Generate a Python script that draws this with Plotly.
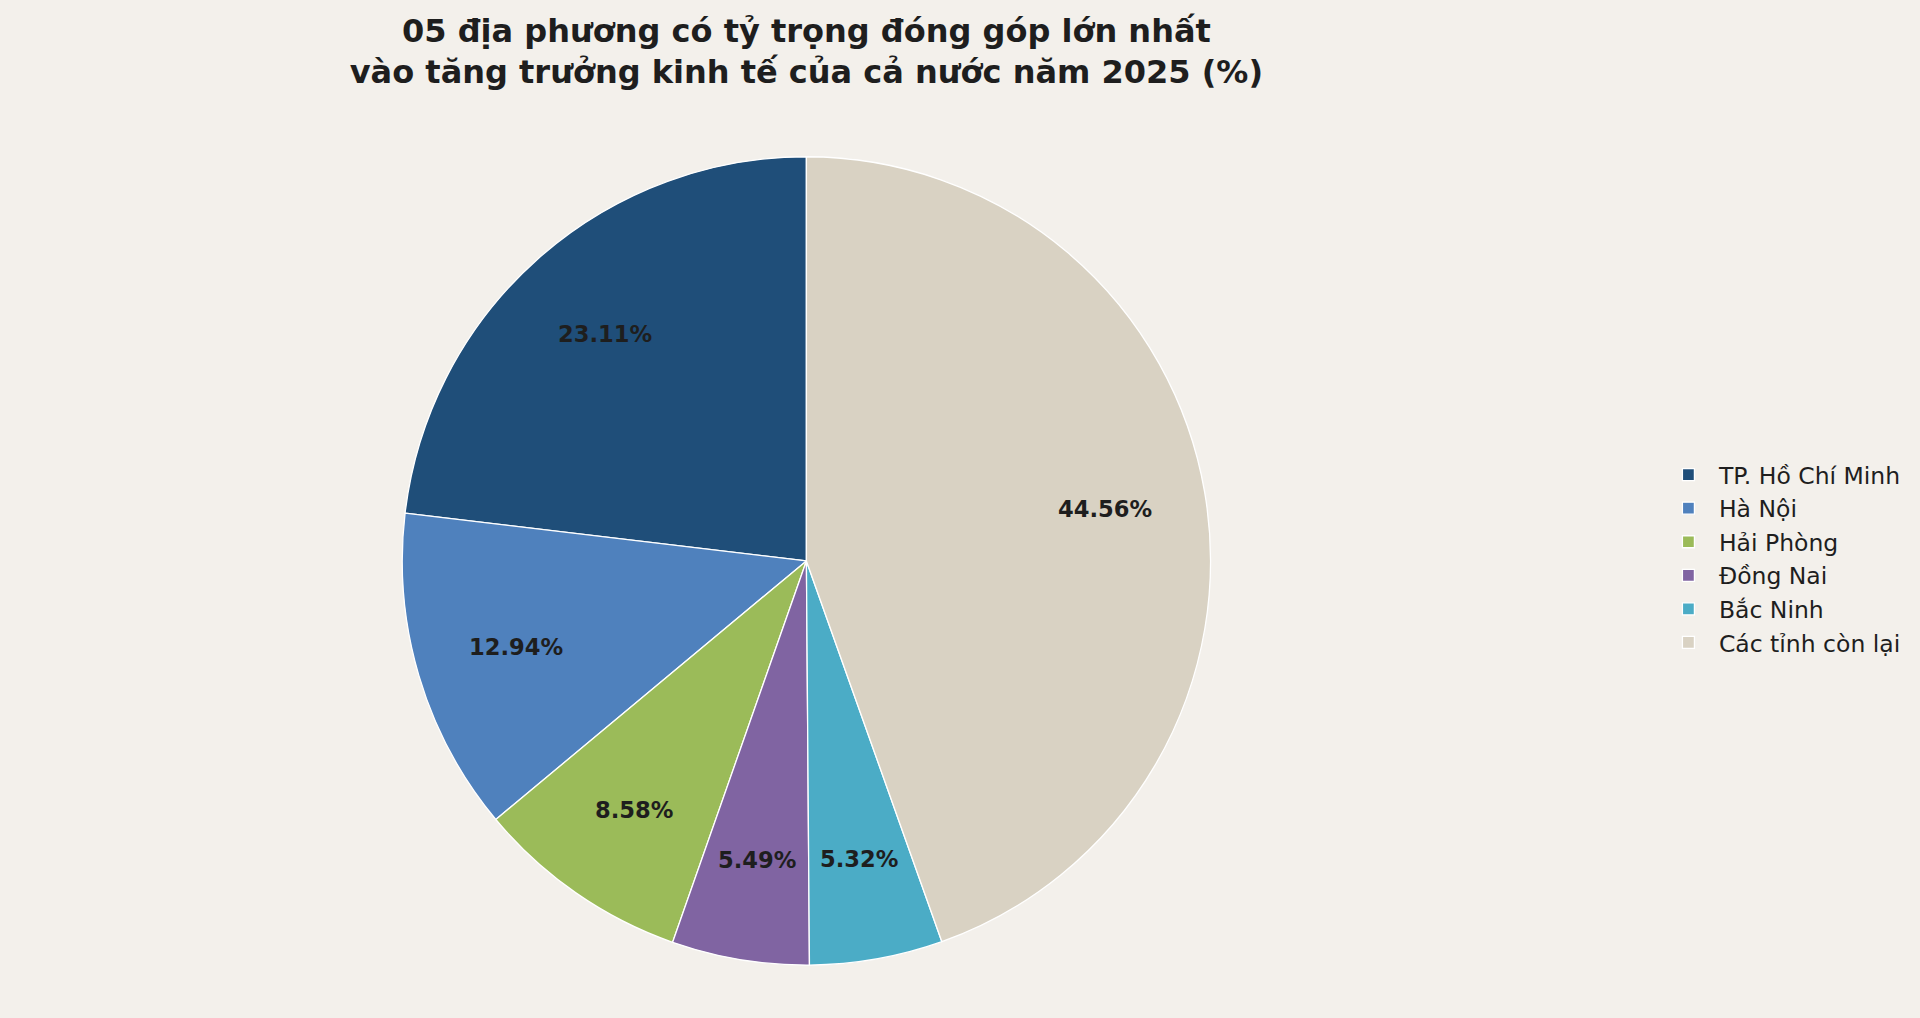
import math
import plotly.graph_objects as go

# data
labels = ['TP. Hồ Chí Minh', 'Hà Nội', 'Hải Phòng', 'Đồng Nai', 'Bắc Ninh', 'Các tỉnh còn lại']
shares = [23.11, 12.94, 8.58, 5.49, 5.32, 44.56]
colors = ['#1F4E79', '#4F81BD', '#9BBB59', '#8064A2', '#4BACC6', '#D9D2C3']

title_text = ('05 địa phương có tỷ trọng đóng góp lớn nhất<br>'
              'vào tăng trưởng kinh tế của cả nước năm 2025 (%)')

BG = '#F3F0EB'
INK = '#1E1E1E'
W, H = 1920, 1018

# pie placement (paper coords)
dom_x = [0.10, 0.74]
dom_y = [0.052, 0.846]
total = sum(shares)

fig = go.Figure()
fig.add_trace(go.Pie(
    labels=labels,
    values=shares,
    sort=False,
    direction='counterclockwise',
    # first slice starts at 12 o'clock and runs counterclockwise
    rotation=-shares[0] / total * 360,
    marker=dict(colors=colors, line=dict(color='white', width=1.3)),
    textinfo='none',
    domain=dict(x=dom_x, y=dom_y),
    hoverinfo='label+percent',
))

# percentage labels at 0.75 of the radius, like matplotlib's pctdistance
cx = (dom_x[0] + dom_x[1]) / 2
cy = (dom_y[0] + dom_y[1]) / 2
r_px = min((dom_x[1] - dom_x[0]) * W, (dom_y[1] - dom_y[0]) * H) / 2
cum = 0.0
for v in shares:
    mid = math.radians(90 + (cum + v / 2) / total * 360)
    cum += v
    fig.add_annotation(
        x=cx + 0.75 * r_px * math.cos(mid) / W,
        y=cy + 0.75 * r_px * math.sin(mid) / H,
        xref='paper', yref='paper',
        text='<b>%.2f%%</b>' % v,
        showarrow=False,
        xanchor='center', yanchor='middle',
        font=dict(family='DejaVu Sans', size=22.6, color=INK),
    )

fig.update_layout(
    width=W, height=H,
    paper_bgcolor=BG, plot_bgcolor=BG,
    margin=dict(l=0, r=0, t=0, b=0),
    font=dict(family='DejaVu Sans', color=INK),
    title=dict(
        text='<b>' + title_text + '</b>',
        x=cx, xanchor='center',
        y=0.959, yanchor='middle',
        font=dict(family='DejaVu Sans', size=32, color=INK),
    ),
    legend=dict(
        x=0.8635, xanchor='left',
        y=0.451, yanchor='middle',
        itemwidth=51,
        font=dict(family='DejaVu Sans', size=23.5, color=INK),
        bgcolor='rgba(0,0,0,0)',
    ),
)

fig.write_html('out.html', config={'displayModeBar': False},
               post_script="document.body.style.margin='0';")
